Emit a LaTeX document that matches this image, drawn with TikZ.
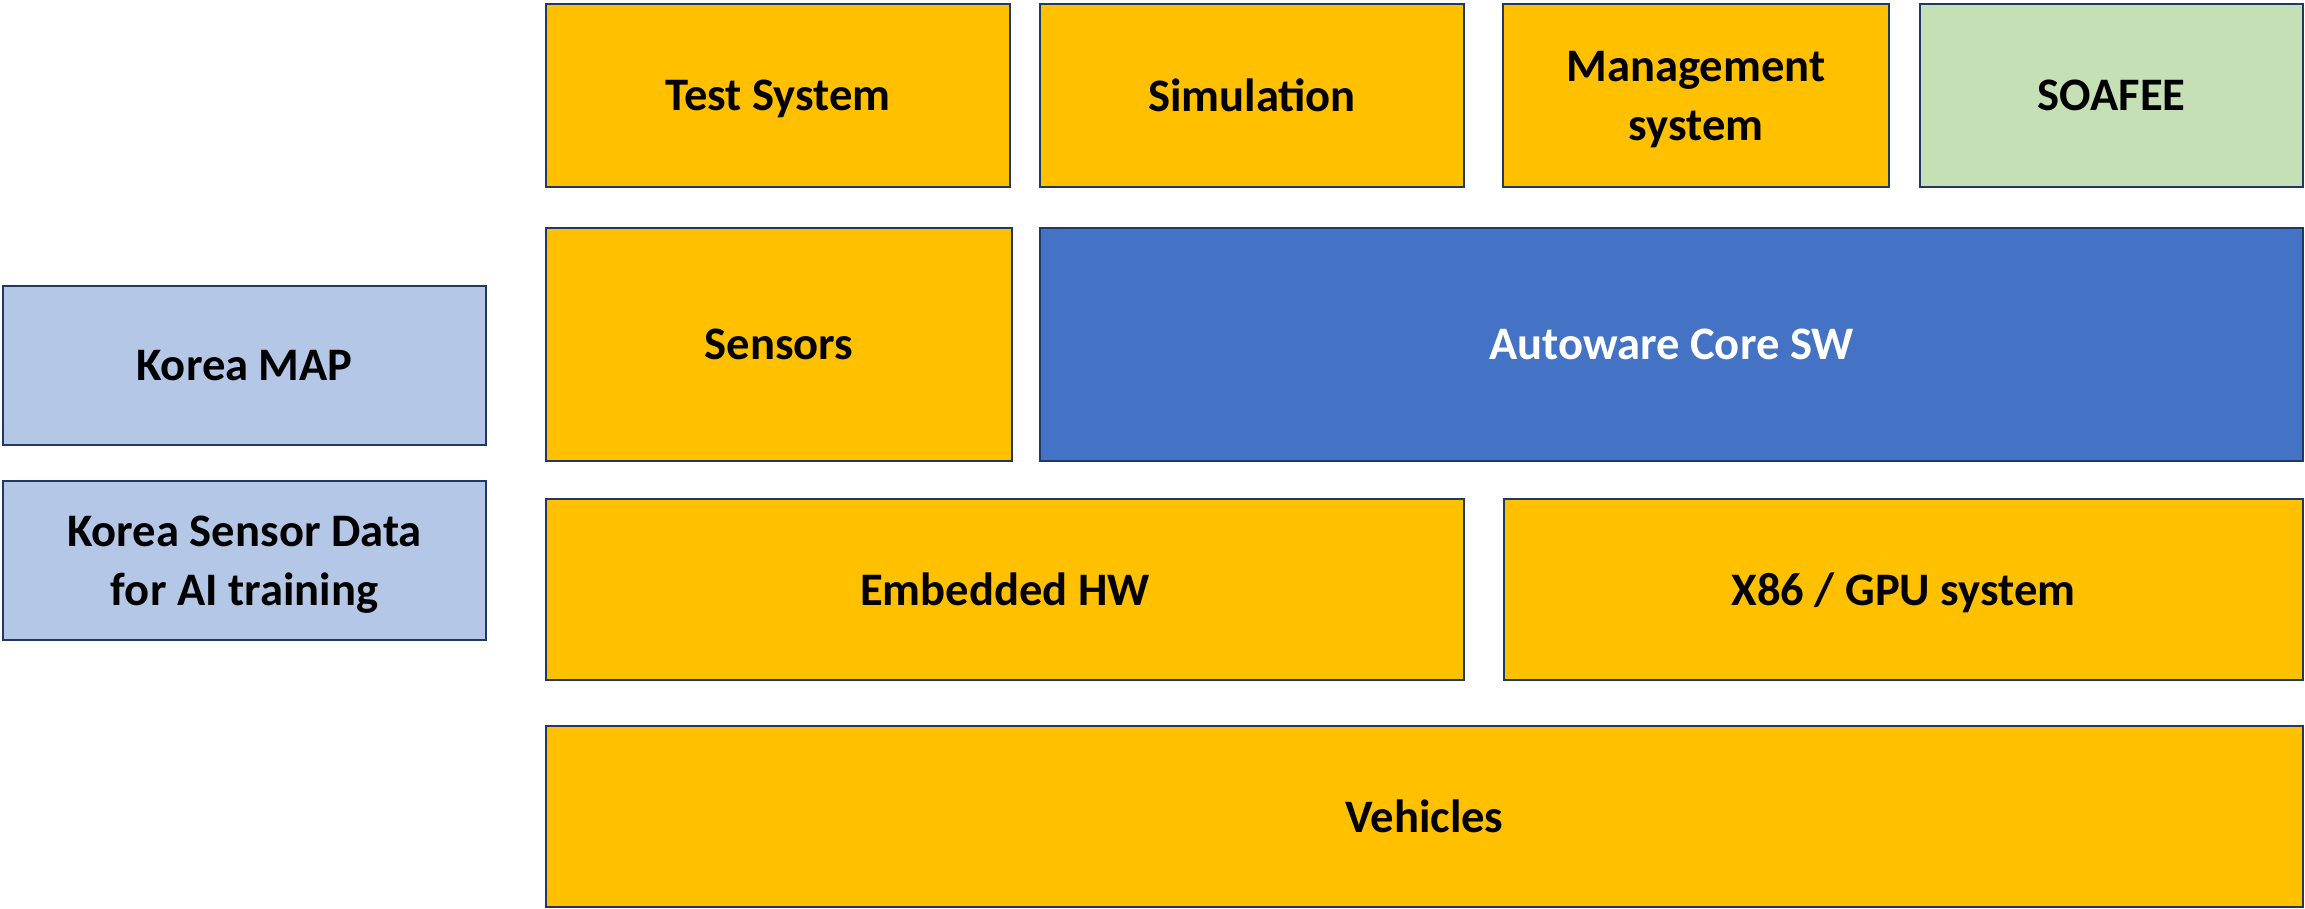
\documentclass[tikz,border=0pt]{standalone}
\usepackage{fontspec}
\setmainfont{Carlito}
\usetikzlibrary{positioning}
\definecolor{amber}{HTML}{FFC000}
\definecolor{coreblue}{HTML}{4472C4}
\definecolor{datablue}{HTML}{B4C7E7}
\definecolor{extgreen}{HTML}{C5E0B4}
\definecolor{navy}{HTML}{1F3864}
\tikzstyle{block} = [rectangle, draw=navy, line width=1.2pt, fill=amber, inner sep=0pt, outer sep=0pt, text depth=0pt, text centered, align=center, font=\bfseries\fontsize{23.3}{29.5}\selectfont]
\tikzstyle{core} = [block, fill=coreblue, text=white]
\tikzstyle{data} = [block, fill=datablue]
\tikzstyle{ext} = [block, fill=extgreen]

\begin{document}
\begin{tikzpicture}
\useasboundingbox (0,0) rectangle (1152.5pt,-454.5pt);

\node (test) [block, minimum width=232pt, minimum height=91.5pt, anchor=north west] at (273pt,-2pt) {Test System};
\node (sim) [block, minimum width=212pt, minimum height=91.5pt, right=15pt of test] {Simulation};
\node (mgmt) [block, minimum width=193pt, minimum height=91.5pt, right=19.5pt of sim] {Management\\system};
\node (soafee) [ext, minimum width=191.5pt, minimum height=91.5pt, right=15.5pt of mgmt] {SOAFEE};

\node (sensors) [block, minimum width=233pt, minimum height=116.5pt, below=20.5pt of test.south west, anchor=north west] {Sensors};
\node (autoware) [core, minimum width=631.5pt, minimum height=116.5pt, right=14pt of sensors] {Autoware Core SW};

\node (embedded) [block, minimum width=459pt, minimum height=90.5pt, below=19pt of sensors.south west, anchor=north west] {Embedded HW};
\node (x86) [block, minimum width=399.5pt, minimum height=90.5pt, right=20pt of embedded] {X86 / GPU system};

\node (vehicles) [block, minimum width=878.5pt, minimum height=90.5pt, below=23pt of embedded.south west, anchor=north west] {Vehicles};

\node (map) [data, minimum width=241.5pt, minimum height=79.5pt, anchor=north west] at (1.5pt,-143pt) {Korea MAP};
\node (sensordata) [data, minimum width=241.5pt, minimum height=79.5pt, below=18pt of map] {Korea Sensor Data\\for AI training};

\end{tikzpicture}
\end{document}
